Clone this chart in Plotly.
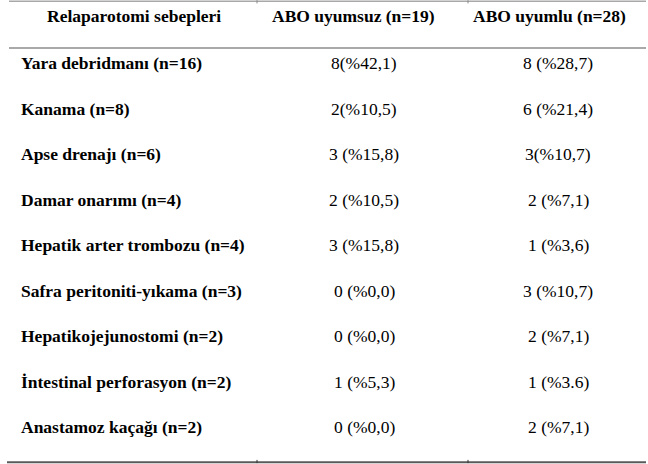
import plotly.graph_objects as go

# ---- data ----
headers = ["Relaparotomi sebepleri", "ABO uyumsuz (n=19)", "ABO uyumlu (n=28)"]
causes = [
    "Yara debridmanı (n=16)",
    "Kanama (n=8)",
    "Apse drenajı (n=6)",
    "Damar onarımı (n=4)",
    "Hepatik arter trombozu (n=4)",
    "Safra peritoniti-yıkama (n=3)",
    "Hepatikojejunostomi (n=2)",
    "İntestinal perforasyon (n=2)",
    "Anastamoz kaçağı (n=2)",
]
abo_incompatible = ["8(%42,1)", "2(%10,5)", "3 (%15,8)", "2 (%10,5)", "3 (%15,8)",
                    "0 (%0,0)", "0 (%0,0)", "1 (%5,3)", "0 (%0,0)"]
abo_compatible = ["8 (%28,7)", "6 (%21,4)", "3(%10,7)", "2 (%7,1)", "1 (%3,6)",
                  "3 (%10,7)", "2 (%7,1)", "1 (%3.6)", "2 (%7,1)"]

# ---- layout constants ----
W, H = 648, 464
FONT = "Liberation Serif, Times New Roman, serif"
FS = 17.5
x_label = 19
x_hdr = [134, 353, 549]
x_val = [None, 364, 558]
col_breaks = [257, 468]

annotations = []
for j, h in enumerate(headers):
    annotations.append(dict(x=x_hdr[j], y=-0.03, text="<b>%s</b>" % h, showarrow=False,
                            xanchor="center", yanchor="middle",
                            font=dict(family=FONT, size=FS, color="black")))
for i, (c, a, b) in enumerate(zip(causes, abo_incompatible, abo_compatible), start=1):
    annotations.append(dict(x=x_label, y=i, text="<b>%s</b>" % c, showarrow=False,
                            xanchor="left", yanchor="middle",
                            font=dict(family=FONT, size=FS, color="black")))
    annotations.append(dict(x=x_val[1], y=i, text=a, showarrow=False,
                            xanchor="center", yanchor="middle",
                            font=dict(family=FONT, size=FS, color="black")))
    annotations.append(dict(x=x_val[2], y=i, text=b, showarrow=False,
                            xanchor="center", yanchor="middle",
                            font=dict(family=FONT, size=FS, color="black")))

n_rows = len(causes)
y_top, y_hdr, y_bot = -0.36, 0.67, n_rows + 0.77
shapes = [
    dict(type="line", xref="x", yref="y", x0=9, x1=646, y0=y_top, y1=y_top,
         line=dict(color="#a8a8a8", width=1.5)),
    dict(type="line", xref="x", yref="y", x0=9, x1=646, y0=y_hdr, y1=y_hdr,
         line=dict(color="#8c8c8c", width=1.5)),
    dict(type="line", xref="x", yref="y", x0=7, x1=646, y0=y_bot, y1=y_bot,
         line=dict(color="#5a5a5a", width=2)),
]
for xb in col_breaks:
    shapes.append(dict(type="line", xref="x", yref="y", x0=xb, x1=xb,
                       y0=y_bot - 0.05, y1=y_bot + 0.02,
                       line=dict(color="#333333", width=1)))
    shapes.append(dict(type="line", xref="x", yref="y", x0=xb, x1=xb,
                       y0=y_top - 0.02, y1=y_top + 0.05,
                       line=dict(color="#888888", width=1)))

fig = go.Figure()
fig.update_layout(
    width=W, height=H,
    margin=dict(l=0, r=0, t=0, b=0),
    paper_bgcolor="white", plot_bgcolor="white",
    font=dict(family=FONT),
    xaxis=dict(range=[0, W], visible=False, fixedrange=True),
    yaxis=dict(range=[n_rows + 0.81, -0.385], visible=False, fixedrange=True),
    annotations=annotations,
    shapes=shapes,
    showlegend=False,
)
fig.write_html("out.html", config={"displayModeBar": False},
               post_script="document.body.style.margin='0px';document.body.style.overflow='hidden';")
